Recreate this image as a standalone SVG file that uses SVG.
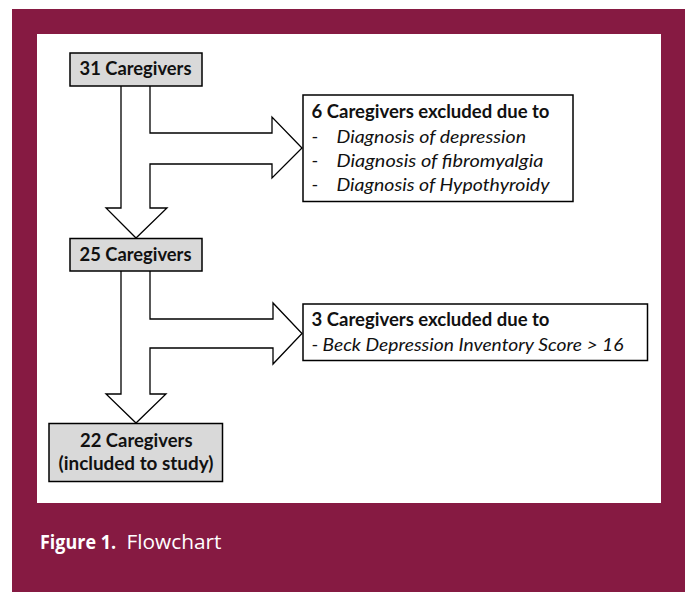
<svg xmlns="http://www.w3.org/2000/svg" width="688" height="592" viewBox="0 0 688 592">
<style>
.box{fill:#d9d9d9;stroke:#000;stroke-width:1.5}
.wbox{fill:#fff;stroke:#000;stroke-width:1.5}
.arrow{fill:#fff;stroke:#000;stroke-width:1.3;stroke-linejoin:miter}
.t{font-family:Lato,"Open Sans",sans-serif;font-size:18px;fill:#111}
.b{font-weight:bold}
.i{font-style:italic}
.cap{font-family:"Open Sans",Lato,sans-serif;font-size:19.5px;fill:#fff}
</style>
<rect x="0" y="0" width="688" height="592" fill="#fff"/>
<rect x="12" y="9" width="673" height="583" fill="#861a42"/>
<rect x="37" y="34" width="624" height="469" fill="#fff"/>
<g id="connectors">
<path class="arrow" d="M121,86 V208 H106 L136,238 L167,208 H150 V164 H272 V178 L302,148 L272,117 V133 H150 V86"/>
<path class="arrow" d="M121,271 V394 H106 L136,423 L166,394 H150 V348 H273 V364 L302,333.5 L273,303 V319 H150 V271"/>
</g>
<g id="n31">
<rect class="box" x="70" y="53" width="132" height="33"/>
<text class="t b" x="79.5" y="75" textLength="112" lengthAdjust="spacingAndGlyphs">31 Caregivers</text>
</g>
<g id="ex6">
<rect class="wbox" x="303" y="95" width="270" height="106.5"/>
<text class="t b" x="311.5" y="117.5" textLength="238" lengthAdjust="spacingAndGlyphs">6 Caregivers excluded due to</text>
<text class="t" x="311.5" y="143">-</text>
<text class="t i" x="336.5" y="143" textLength="189.5" lengthAdjust="spacingAndGlyphs">Diagnosis of depression</text>
<text class="t" x="311.5" y="167">-</text>
<text class="t i" x="336.5" y="167" textLength="207" lengthAdjust="spacingAndGlyphs">Diagnosis of fibromyalgia</text>
<text class="t" x="311.5" y="191">-</text>
<text class="t i" x="336.5" y="191" textLength="213" lengthAdjust="spacingAndGlyphs">Diagnosis of Hypothyroidy</text>
</g>
<g id="n25">
<rect class="box" x="70" y="238.5" width="132" height="32.5"/>
<text class="t b" x="79.5" y="260.5" textLength="112" lengthAdjust="spacingAndGlyphs">25 Caregivers</text>
</g>
<g id="ex3">
<rect class="wbox" x="303" y="304" width="344.5" height="56.5"/>
<text class="t b" x="311.5" y="326" textLength="238" lengthAdjust="spacingAndGlyphs">3 Caregivers excluded due to</text>
<text class="t" x="311.5" y="351">-</text>
<text class="t i" x="322.5" y="351" textLength="301" lengthAdjust="spacingAndGlyphs">Beck Depression Inventory Score &gt; 16</text>
</g>
<g id="n22">
<rect class="box" x="49" y="423.5" width="173.5" height="58"/>
<text class="t b" x="80" y="446.5" textLength="112.5" lengthAdjust="spacingAndGlyphs">22 Caregivers</text>
<text class="t b" x="58.5" y="469.5" textLength="155" lengthAdjust="spacingAndGlyphs">(included to study)</text>
</g>
<g id="caption">
<text class="cap b" x="40" y="548.5" textLength="76" lengthAdjust="spacingAndGlyphs">Figure 1.</text>
<text class="cap" x="126.5" y="548.5" textLength="95" lengthAdjust="spacingAndGlyphs">Flowchart</text>
</g>
</svg>
